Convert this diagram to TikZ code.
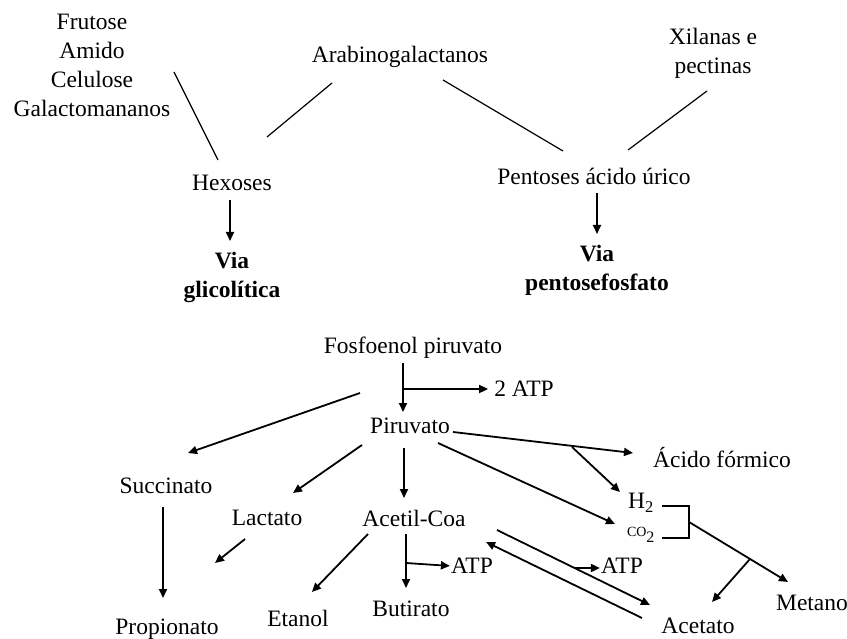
\documentclass[tikz,border=0pt]{standalone}
\usepackage{fontspec}
\setmainfont{Liberation Serif}
\usetikzlibrary{arrows.meta}
\begin{document}
\begin{tikzpicture}[x=1pt,y=-1pt,
  lbl/.style={font=\fontsize{23.5}{29}\selectfont, inner sep=0pt, align=center},
  bld/.style={font=\fontsize{23.5}{29}\selectfont\bfseries, inner sep=0pt, align=center},
  thinln/.style={line width=1.2pt},
  arr/.style={line width=1.8pt, -{Triangle[length=9pt,width=8pt]}},
  brk/.style={line width=1.4pt}]
\useasboundingbox[fill=white] (0,0) rectangle (847,639);
% top part
\node[lbl] (src) at (92,65) {Frutose\\Amido\\Celulose\\Galactomananos};
\node[lbl] (arab) at (400,57) {Arabinogalactanos};
\node[lbl] (xil) at (713,53) {Xilanas e\\pectinas};
\node[lbl] (hex) at (232,183) {Hexoses};
\node[lbl] (pent) at (594,176) {Pentoses ácido úrico};
\node[bld] (vgl) at (232,277) {Via\\glicolítica};
\node[bld] (vpf) at (597,270) {Via\\pentosefosfato};
\coordinate (s1) at (174,72);  \coordinate (h1) at (218,160);
\coordinate (a1) at (332,83);  \coordinate (h2) at (267,137);
\coordinate (a2) at (443,80);  \coordinate (p1) at (563,151);
\coordinate (x1) at (707,91);  \coordinate (p2) at (628,150);
\draw[thinln] (s1) -- (h1);
\draw[thinln] (a1) -- (h2);
\draw[thinln] (a2) -- (p1);
\draw[thinln] (x1) -- (p2);
\coordinate (hexa) at (230,200); \coordinate (hexb) at (230,241);
\coordinate (penta) at (597,193); \coordinate (pentb) at (597,234);
\draw[arr] (hexa) -- (hexb);
\draw[arr] (penta) -- (pentb);
% bottom part
\node[lbl] (fpe) at (413,348) {Fosfoenol piruvato};
\node[lbl] (atp1) at (524,389) {2 ATP};
\node[lbl] (piru) at (410,426) {Piruvato};
\node[lbl] (succ) at (166,486) {Succinato};
\node[lbl] (prop) at (167,629) {Propionato};
\node[lbl] (lact) at (267,518) {Lactato};
\node[lbl] (acet) at (414,518) {Acetil-Coa};
\node[lbl] (etan) at (298,618) {Etanol};
\node[lbl] (buti) at (411,609) {Butirato};
\node[lbl] (atp2) at (472,566) {ATP};
\node[lbl] (acfo) at (722,458) {Ácido fórmico};
\node[lbl] (hh) at (641,503) {H\textsubscript{2}};
\node[font=\fontsize{14}{14}\selectfont, inner sep=0pt] (co2) at (641,535) {CO\textsubscript{\fontsize{16}{16}\selectfont 2}};
\node[lbl] (metano) at (812,603) {Metano};
\node[lbl] (acetato) at (698,626) {Acetato};
\node[lbl] (atp3) at (622,566) {ATP};
% connectors
\coordinate (t0) at (403,363); \coordinate (t1) at (403,412); \coordinate (tb) at (403,389);
\draw[arr] (t0) -- (t1);
\draw[arr, shorten >=6pt] (tb) -- (tb -| atp1.west);
\coordinate (sa) at (360,393); \coordinate (sb) at (188,453);
\draw[arr] (sa) -- (sb);
\coordinate (la) at (362,445); \coordinate (lb) at (293,493);
\draw[arr] (la) -- (lb);
\coordinate (ca) at (404,448); \coordinate (cb) at (404,498);
\draw[arr] (ca) -- (cb);
\coordinate (lc) at (245,539); \coordinate (ld) at (215,563);
\draw[arr] (lc) -- (ld);
\coordinate (pa) at (163,507); \coordinate (pb) at (163,598);
\draw[arr] (pa) -- (pb);
\coordinate (ea) at (368,534); \coordinate (eb) at (312,592);
\draw[arr] (ea) -- (eb);
\coordinate (ba) at (406,534); \coordinate (bb) at (406,588); \coordinate (bc) at (406,563);
\draw[arr] (ba) -- (bb);
\draw[arr, shorten >=1pt] (bc) -- (atp2.west);
\coordinate (fa) at (453,432); \coordinate (fb) at (633,453); \coordinate (fc) at (572,447); \coordinate (fd) at (620,492);
\draw[arr] (fa) -- (fb);
\draw[arr] (fc) -- (fd);
\coordinate (ga) at (438,443); \coordinate (gb) at (615,524);
\draw[arr] (ga) -- (gb);
\coordinate (k1) at (662,506); \coordinate (k2) at (689,506); \coordinate (k3) at (689,538); \coordinate (k4) at (662,538); \coordinate (km) at (689,522);
\draw[brk] (k1) -- (k2) -- (k3) -- (k4);
\coordinate (mb) at (788,582); \coordinate (mc) at (750,559); \coordinate (md) at (712,602);
\draw[arr] (km) -- (mb);
\draw[arr] (mc) -- (md);
\coordinate (ya) at (497,530); \coordinate (yb) at (650,605); \coordinate (yc) at (575,568);
\draw[arr] (ya) -- (yb);
\draw[arr, shorten >=1pt] (yc) -- (yc -| atp3.west);
\coordinate (za) at (642,618); \coordinate (zb) at (486,542);
\draw[arr] (za) -- (zb);
\end{tikzpicture}
\end{document}
